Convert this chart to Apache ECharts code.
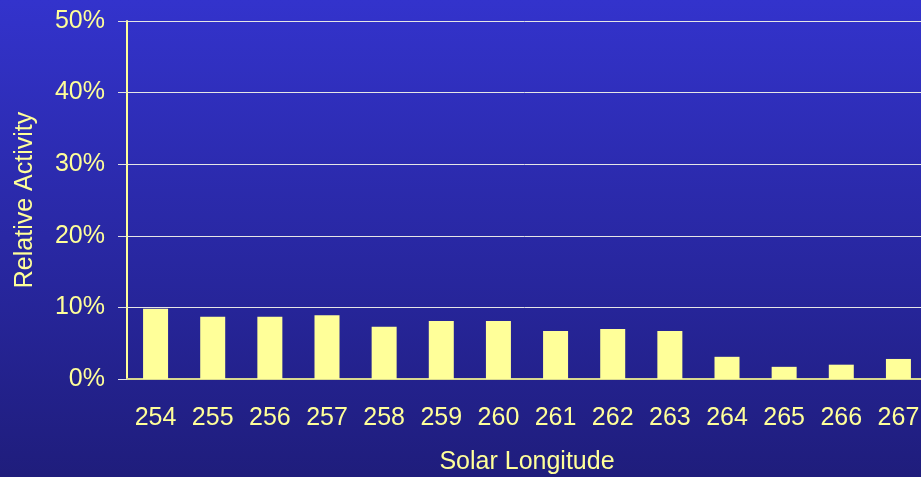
<!DOCTYPE html>
<html lang="en">
<head>
    <meta charset="UTF-8">
    <title>Relative Activity</title>
    <script type="text/javascript" src="https://cdn.jsdelivr.net/npm/echarts@6/dist/echarts.min.js"></script>
    <style>
        body { margin: 0; }
    </style>
</head>
<body>
<div id="main" style="width: 921px; height: 477px;"></div>
<script type="text/javascript">
    // solar longitude categories
    var categories = ['254', '255', '256', '257', '258', '259', '260', '261', '262', '263', '264', '265', '266', '267'];
    // relative activity, in percent
    var activity = [9.8, 8.7, 8.7, 8.9, 7.3, 8.1, 8.1, 6.7, 7.0, 6.7, 3.1, 1.7, 2.0, 2.8];

    var textColor = '#ffff99';

    var option = {
        backgroundColor: new echarts.graphic.LinearGradient(0, 0, 0, 1, [
            {offset: 0, color: '#3333cc'},
            {offset: 1, color: '#1f1d7c'}
        ]),
        animation: false,
        grid: {
            left: 127,
            right: -6,
            top: 21,
            bottom: 98,
            containLabel: false,
            outerBoundsMode: 'none'
        },
        xAxis: {
            type: 'category',
            data: categories,
            name: 'Solar Longitude',
            nameLocation: 'middle',
            nameGap: 71,
            nameTextStyle: {color: textColor, fontSize: 25, fontFamily: 'Liberation Sans'},
            axisLine: {lineStyle: {color: '#d8d890', width: 2}},
            axisTick: {alignWithLabel: false, length: 8, lineStyle: {color: '#a0a0a0', width: 2}},
            axisLabel: {color: textColor, fontSize: 25, fontFamily: 'Liberation Sans', margin: 27}
        },
        yAxis: {
            type: 'value',
            min: 0,
            max: 50,
            interval: 10,
            name: 'Relative Activity',
            nameLocation: 'middle',
            nameGap: 89,
            nameTextStyle: {color: textColor, fontSize: 25, fontFamily: 'Liberation Sans'},
            axisLine: {show: true, lineStyle: {color: '#ffff99', width: 2}},
            axisTick: {show: true, length: 9, lineStyle: {color: '#e0e0e0', width: 1}},
            axisLabel: {color: textColor, fontSize: 25, fontFamily: 'Liberation Sans', margin: 22, formatter: '{value}%'},
            splitLine: {lineStyle: {color: '#e6e6e6', width: 1}}
        },
        series: [
            {
                name: 'Relative Activity',
                type: 'bar',
                barWidth: 25,
                itemStyle: {color: '#ffff99'},
                data: activity
            }
        ]
    };

    var myChart = echarts.init(document.getElementById('main'));
    myChart.setOption(option);
</script>
</body>
</html>
